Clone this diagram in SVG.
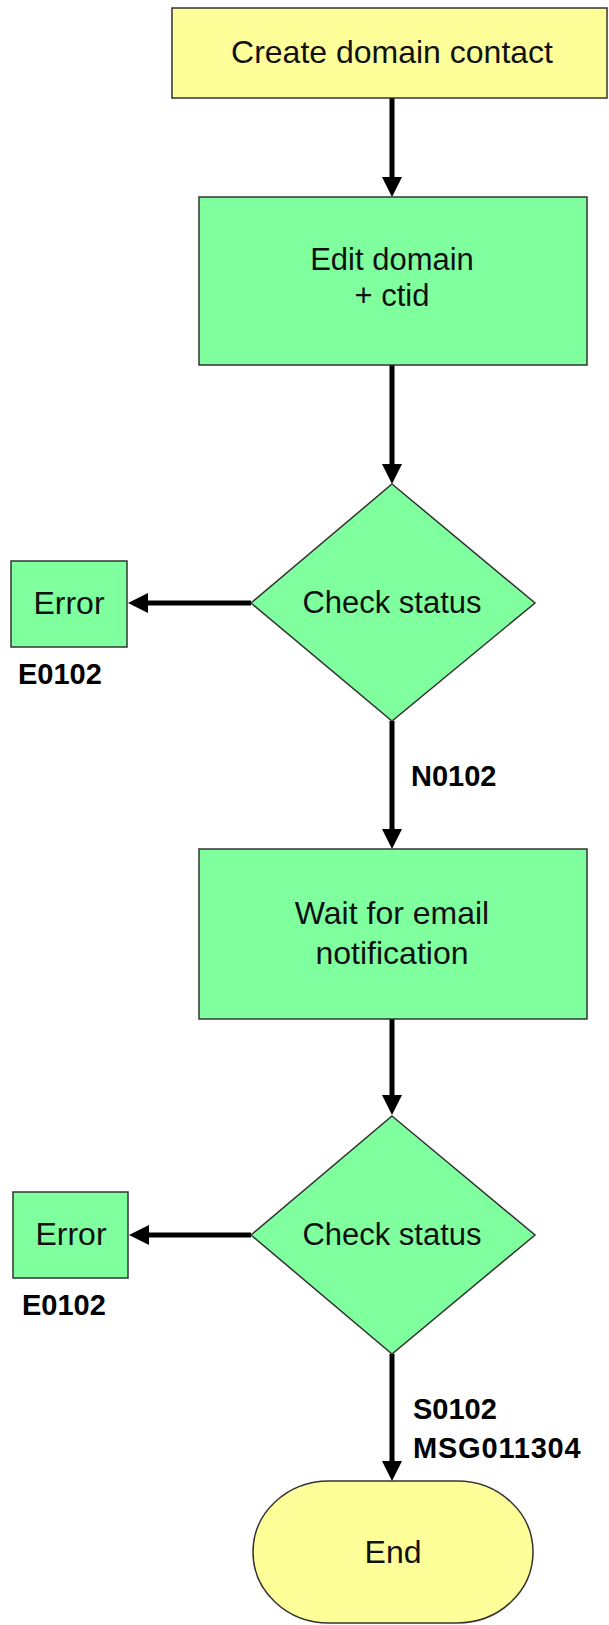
<svg xmlns="http://www.w3.org/2000/svg" width="609" height="1625" viewBox="0 0 609 1625">
  <style>
    .yel { fill: #FFFF99; stroke: #333333; stroke-width: 1.5; }
    .grn { fill: #80FF9F; stroke: #333333; stroke-width: 1.5; }
    .t { font-family: "Liberation Sans", Arial, sans-serif; font-size: 32px; fill: #111111; text-anchor: middle; }
    .lbl { font-family: "Liberation Sans", Arial, sans-serif; font-size: 29px; font-weight: bold; fill: #000000; }
    .conn { stroke: #000000; stroke-width: 5; fill: none; marker-end: url(#arrow); }
  </style>
  <defs>
    <marker id="arrow" markerUnits="userSpaceOnUse" viewBox="0 0 20 20" refX="2" refY="10" markerWidth="20" markerHeight="20" orient="auto">
      <path d="M0,0 L20,10 L0,20 z" fill="#000000"/>
    </marker>
  </defs>

  <g id="connectors">
    <path class="conn" d="M392,98 L392,179"/>
    <path class="conn" d="M392,365 L392,466"/>
    <path class="conn" d="M251,603 L146,603"/>
    <path class="conn" d="M392,721 L392,831"/>
    <path class="conn" d="M392,1019 L392,1097"/>
    <path class="conn" d="M251,1235 L147,1235"/>
    <path class="conn" d="M392,1354 L392,1463"/>
  </g>

  <g id="create-contact">
    <rect class="yel" x="172" y="8" width="435" height="90"/>
    <text class="t" x="392" y="63" font-size="33">Create domain contact</text>
  </g>

  <g id="edit-domain">
    <rect class="grn" x="199" y="197" width="388" height="168"/>
    <text class="t" x="392" y="270" style="font-size:31px">Edit domain</text>
    <text class="t" x="392" y="306" style="font-size:31px">+ ctid</text>
  </g>

  <g id="check-status-1">
    <polygon class="grn" points="392,484 535,603 392,721 251,603"/>
    <text class="t" x="392" y="613" style="font-size:31px">Check status</text>
  </g>

  <g id="error-1">
    <rect class="grn" x="11" y="561" width="116" height="86"/>
    <text class="t" x="69" y="614">Error</text>
    <text class="lbl" x="18" y="684">E0102</text>
  </g>

  <g id="label-n0102">
    <text class="lbl" x="411" y="786">N0102</text>
  </g>

  <g id="wait-email">
    <rect class="grn" x="199" y="849" width="388" height="170"/>
    <text class="t" x="392" y="924">Wait for email</text>
    <text class="t" x="392" y="964">notification</text>
  </g>

  <g id="check-status-2">
    <polygon class="grn" points="392,1116 535,1235 392,1354 251,1235"/>
    <text class="t" x="392" y="1245" style="font-size:31px">Check status</text>
  </g>

  <g id="error-2">
    <rect class="grn" x="13" y="1192" width="115" height="86"/>
    <text class="t" x="71" y="1245">Error</text>
    <text class="lbl" x="22" y="1315">E0102</text>
  </g>

  <g id="label-success">
    <text class="lbl" x="413" y="1419">S0102</text>
    <text class="lbl" x="413" y="1458" style="letter-spacing:0.8px">MSG011304</text>
  </g>

  <g id="end">
    <rect class="yel" x="253" y="1481" width="280" height="142" rx="76" ry="71"/>
    <text class="t" x="393" y="1563">End</text>
  </g>
</svg>
